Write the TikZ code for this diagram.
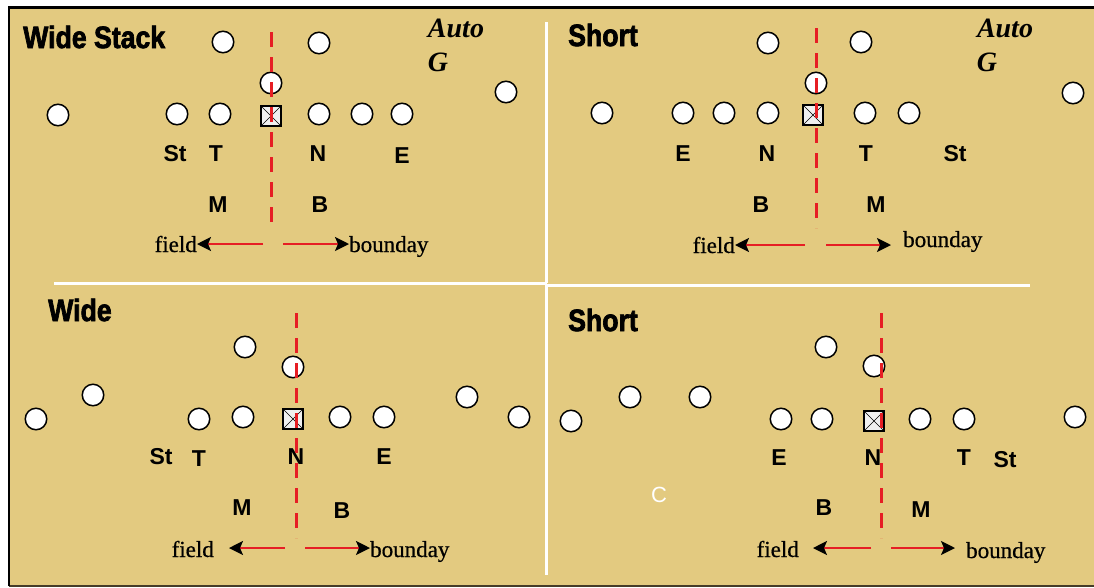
\documentclass[tikz,border=0pt]{standalone}
\usepackage{fontspec}
\setmainfont{Liberation Serif}
\newfontfamily\labfont{Liberation Sans}
\newfontfamily\titlefont{Liberation Sans Bold}[FakeStretch=0.86,FakeBold=2.2]
\newfontfamily\dirfont{Liberation Serif}[FakeBold=0.6]
\usetikzlibrary{arrows.meta}
\definecolor{fieldtan}{RGB}{227,202,128}
\definecolor{linered}{RGB}{230,30,36}
\definecolor{edgebrown}{RGB}{70,60,40}
\begin{document}
\begin{tikzpicture}[x=1pt,y=-1pt,
  player/.style={circle,draw=black,fill=white,line width=1.5pt,minimum size=21.5pt,inner sep=0pt},
  snapper/.style={rectangle,draw=black,fill=gray!12,line width=2pt,minimum size=20pt,inner sep=0pt,
    path picture={\draw[line width=0.6pt]
      (path picture bounding box.south west) -- (path picture bounding box.north east)
      (path picture bounding box.north west) -- (path picture bounding box.south east);}},
  lab/.style={font=\labfont\bfseries\fontsize{23}{23}\selectfont,inner sep=0pt},
  ttl/.style={font=\titlefont\fontsize{31}{31}\selectfont,inner sep=0pt,anchor=west},
  auto/.style={font=\bfseries\itshape\fontsize{28}{28}\selectfont,inner sep=0pt},
  dirtext/.style={font=\dirfont\fontsize{23}{23}\selectfont,inner sep=0pt},
  midline/.style={draw=linered,line width=3pt,dash pattern=on 15pt off 10pt},
  dirarrow/.style={draw=linered,line width=1.8pt,-{Stealth[length=14pt,width=14pt,inset=3pt,color=black]}},
  divider/.style={draw=white,line width=3pt}
]
\useasboundingbox (0,0) rectangle (1094,587);

% field background and frame
\fill[fieldtan] (8,7) rectangle (1094,586);
\draw[edgebrown,line width=2pt] (9,585.5) -- (1094,585.5);
\draw[black,line width=2.5pt] (9,586) -- (9,7.5) -- (1094,7.5);

% quadrant dividers
\draw[divider] (546.5,22) -- (546.5,283);
\draw[divider] (546.5,285) -- (546.5,575);
\draw[divider] (54,283) -- (546.5,283);
\draw[divider] (546.5,285) -- (1030,285);

% ---------- Wide Stack ----------
\node[ttl] (t1) at (23,37) {Wide Stack};
\node[auto] (a1) at (456,28) {Auto};
\node[auto] (g1) at (438,62) {G};
\node[player] (p1a) at (223,42) {};
\node[player] (p1b) at (319,43) {};
\node[player] (p1c) at (271,83) {};
\node[player] (p1d) at (58,115) {};
\node[player] (p1e) at (177,114) {};
\node[player] (p1f) at (220,114) {};
\node[player] (p1g) at (319,114) {};
\node[player] (p1h) at (362,114) {};
\node[player] (p1i) at (402,114) {};
\node[player] (p1j) at (506,92) {};
\node[snapper] (c1) at (271,116) {};
\node[lab] (l1st) at (175,154) {St};
\node[lab] (l1t) at (216,154) {T};
\node[lab] (l1n) at (318,154) {N};
\node[lab] (l1e) at (402,156) {E};
\node[lab] (l1m) at (218,205) {M};
\node[lab] (l1b) at (320,205) {B};
\coordinate (m1top) at (271,32);
\coordinate (m1bot) at (271,228);
\draw[midline] (m1top) -- (m1bot);
\node[dirtext,anchor=base east] (f1) at (197,252) {field};
\node[dirtext,anchor=base west] (b1) at (349,252) {bounday};
\coordinate (f1s) at (263,244);
\coordinate (b1s) at (283,244);
\draw[dirarrow] (f1s) -- (f1.east |- f1s);
\draw[dirarrow] (b1s) -- (b1.west |- b1s);

% ---------- Short (top) ----------
\node[ttl] (t2) at (568,35) {Short};
\node[auto] (a2) at (1005,28) {Auto};
\node[auto] (g2) at (987,62) {G};
\node[player] (p2a) at (768,43) {};
\node[player] (p2b) at (861,42) {};
\node[player] (p2c) at (816,83) {};
\node[player] (p2d) at (602,113) {};
\node[player] (p2e) at (683,113) {};
\node[player] (p2f) at (724,113) {};
\node[player] (p2g) at (768,113) {};
\node[player] (p2h) at (865,113) {};
\node[player] (p2i) at (909,113) {};
\node[player] (p2j) at (1073,93) {};
\node[snapper] (c2) at (813,115) {};
\node[lab] (l2e) at (683,154) {E};
\node[lab] (l2n) at (767,154) {N};
\node[lab] (l2t) at (866,154) {T};
\node[lab] (l2st) at (955,154) {St};
\node[lab] (l2b) at (761,205) {B};
\node[lab] (l2m) at (876,205) {M};
\coordinate (m2top) at (816,28);
\coordinate (m2bot) at (816,228);
\draw[midline] (m2top) -- (m2bot);
\node[dirtext,anchor=base east] (f2) at (735,253) {field};
\node[dirtext,anchor=base west] (b2) at (903,247) {bounday};
\coordinate (f2s) at (805,245);
\coordinate (b2s) at (826,245);
\coordinate (b2e) at (891,245);
\draw[dirarrow] (f2s) -- (f2.east |- f2s);
\draw[dirarrow] (b2s) -- (b2e);

% ---------- Wide ----------
\node[ttl] (t3) at (48,310) {Wide};
\node[player] (p3a) at (245,347) {};
\node[player] (p3b) at (293,367) {};
\node[player] (p3c) at (36,419) {};
\node[player] (p3d) at (93,395) {};
\node[player] (p3e) at (199,419) {};
\node[player] (p3f) at (243,417) {};
\node[player] (p3g) at (340,417) {};
\node[player] (p3h) at (384,417) {};
\node[player] (p3i) at (467,397) {};
\node[player] (p3j) at (519,417) {};
\node[snapper] (c3) at (293,419) {};
\node[lab] (l3st) at (161,457) {St};
\node[lab] (l3t) at (199,459) {T};
\node[lab] (l3n) at (296,457) {N};
\node[lab] (l3e) at (384,457) {E};
\node[lab] (l3m) at (242,508) {M};
\node[lab] (l3b) at (342,511) {B};
\coordinate (m3top) at (296,313);
\coordinate (m3bot) at (296,538);
\draw[midline] (m3top) -- (m3bot);
\node[dirtext,anchor=base east] (f3) at (214,557) {field};
\node[dirtext,anchor=base west] (b3) at (370,557) {bounday};
\coordinate (f3s) at (285,548);
\coordinate (f3e) at (229,548);
\coordinate (b3s) at (305,548);
\draw[dirarrow] (f3s) -- (f3e);
\draw[dirarrow] (b3s) -- (b3.west |- b3s);

% ---------- Short (bottom) ----------
\node[ttl] (t4) at (568,320) {Short};
\node[player] (p4a) at (826,347) {};
\node[player] (p4b) at (874,366) {};
\node[player] (p4c) at (571,421) {};
\node[player] (p4d) at (630,397) {};
\node[player] (p4e) at (700,397) {};
\node[player] (p4f) at (781,419) {};
\node[player] (p4g) at (822,419) {};
\node[player] (p4h) at (920,419) {};
\node[player] (p4i) at (964,419) {};
\node[player] (p4j) at (1075,417) {};
\node[snapper] (c4) at (874,421) {};
\node[lab] (l4e) at (779,458) {E};
\node[lab] (l4n) at (873,458) {N};
\node[lab] (l4t) at (964,458) {T};
\node[lab] (l4st) at (1005,460) {St};
\node[lab] (l4b) at (824,508) {B};
\node[lab] (l4m) at (921,510) {M};
\node[font=\labfont\fontsize{22}{22}\selectfont,text=white,inner sep=0pt] (c4c) at (659,495) {C};
\coordinate (m4top) at (881,313);
\coordinate (m4bot) at (881,538);
\draw[midline] (m4top) -- (m4bot);
\node[dirtext,anchor=base east] (f4) at (799,557) {field};
\node[dirtext,anchor=base west] (b4) at (966,558) {bounday};
\coordinate (f4s) at (871,548);
\coordinate (f4e) at (813,548);
\coordinate (b4s) at (891,548);
\coordinate (b4e) at (955,548);
\draw[dirarrow] (f4s) -- (f4e);
\draw[dirarrow] (b4s) -- (b4e);
\end{tikzpicture}
\end{document}
